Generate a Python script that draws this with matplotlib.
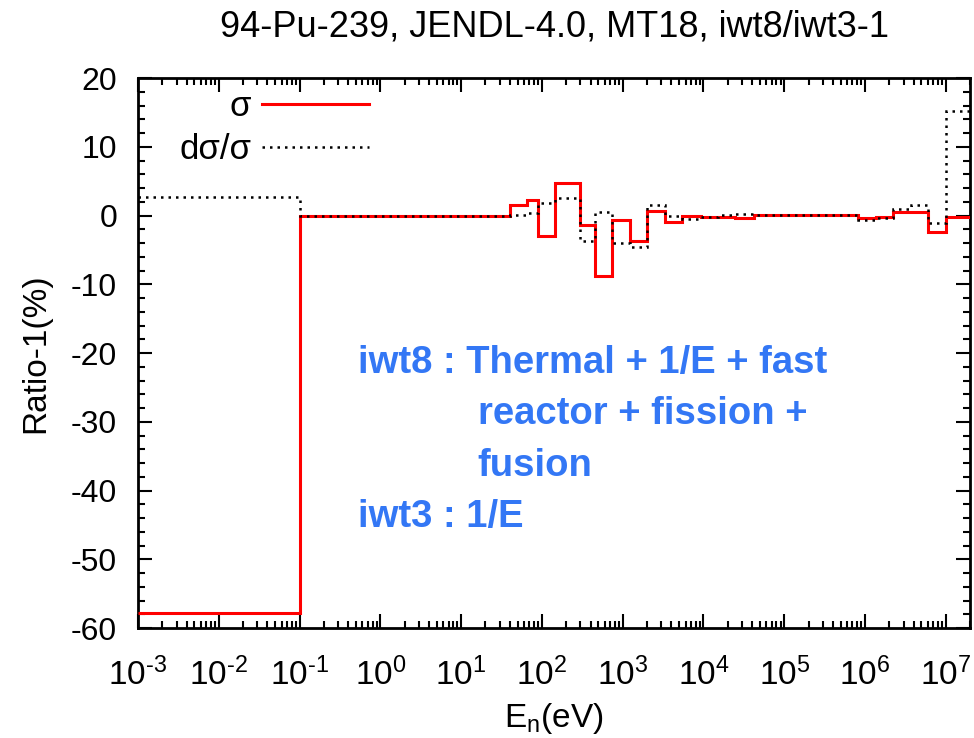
import matplotlib
matplotlib.use("Agg")
import matplotlib.pyplot as plt
from matplotlib.ticker import LogLocator, MultipleLocator, FixedLocator
import numpy as np

plt.rcParams['font.family'] = ['Liberation Sans', 'DejaVu Sans']
plt.rcParams['axes.unicode_minus'] = False
plt.rcParams['mathtext.fontset'] = 'custom'
plt.rcParams['mathtext.rm'] = 'Liberation Sans'
plt.rcParams['mathtext.it'] = 'Liberation Sans:italic'
plt.rcParams['mathtext.bf'] = 'Liberation Sans:bold'

# group boundaries (eV) and values (%)
sig_edges = [1e-3, 0.1, 40, 65, 89, 145, 300, 455, 740, 1230, 2000, 3300, 5500,
             9400, 24500, 42000, 8.1e5, 1.35e6, 2.2e6, 6.0e6, 1.0e7, 2.0e7]
sig_vals = [-57.8, 0.0, 1.5, 2.25, -3.0, 4.7, -1.3, -8.8, -0.7, -3.7, 0.7, -0.9, 0.0,
            -0.2, -0.4, 0.1, -0.3, -0.2, 0.5, -2.4, -0.2]

dsig_edges = [1e-3, 0.1, 40, 65, 89, 145, 300, 455, 740, 1230, 2000, 3300, 5500,
              9400, 15000, 24500, 42000, 8.1e5, 1.35e6, 2.2e6, 3.7e6, 6.0e6, 1.0e7, 2.0e7]
dsig_vals = [2.7, 0.0, 0.1, 0.4, 1.9, 2.6, -3.7, 0.6, -4.0, -4.6, 1.6, 0.0, -0.5,
             -0.2, 0.1, 0.3, 0.1, -0.7, -0.4, 0.9, 1.6, -1.0, 15.2]

xtick_exps = list(range(-3, 8))
title = "94-Pu-239, JENDL-4.0, MT18, iwt8/iwt3-1"
note_lines = ["iwt8 : Thermal + 1/E + fast",
              "reactor + fission +",
              "fusion",
              "iwt3 : 1/E"]
note_x = [0.2644, 0.408, 0.408, 0.2644]
note_y = [0.4636, 0.3709, 0.2764, 0.1836]

fig = plt.figure(figsize=(9.74, 7.38), dpi=100)
ax = fig.add_axes([0.1417, 0.149, 0.8543, 0.745])

ax.stairs(sig_vals, sig_edges, baseline=None, color='#ff0000', lw=2.2, label='σ', zorder=3)
ax.stairs(dsig_vals, dsig_edges, baseline=None, color='black', lw=1.8,
          linestyle=(0, (1, 2)), label='dσ/σ', zorder=4)

ax.set_xscale('log')
ax.set_xlim(1e-3, 2e7)
ax.set_ylim(-60, 20)
ax.xaxis.set_major_locator(FixedLocator([10.0**k for k in xtick_exps]))
ax.xaxis.set_minor_locator(LogLocator(base=10, subs=np.arange(2, 10), numticks=100))
ax.yaxis.set_major_locator(MultipleLocator(10))
ax.yaxis.set_minor_locator(MultipleLocator(2))


def exp_label(k):
    s = str(k).replace('-', '\u2010')
    return r'10$^{\mathregular{%s}}$' % s


ax.set_xticklabels([exp_label(k) for k in xtick_exps])
ax.tick_params(which='both', direction='in', top=True, right=True, labelsize=23, width=1.5)
ax.tick_params(which='major', length=10, pad=15)
ax.tick_params(axis='x', which='major', pad=21, labelsize=24)
ax.tick_params(which='minor', length=5)
for s in ax.spines.values():
    s.set_linewidth(2)

ax.set_ylabel('Ratio-1(%)', fontsize=24)
ax.yaxis.set_label_coords(-0.104, 0.5)
ax.set_xlabel(r'E$_\mathregular{n}$(eV)', fontsize=24)
ax.xaxis.set_label_coords(0.5, -0.133)
fig.text(0.569, 0.95, title, fontsize=26, ha='center', va='baseline')

leg = ax.legend(loc='upper right', frameon=False, markerfirst=False, fontsize=25,
                handlelength=3.1, bbox_to_anchor=(0.2945, 1.004), labelspacing=0.3,
                handletextpad=0.3, borderaxespad=0)

for txt, xx, yy in zip(note_lines, note_x, note_y):
    ax.text(xx, yy, txt, transform=ax.transAxes, color='#3377f5',
            fontsize=27.5, fontweight='bold', va='baseline', ha='left')

fig.savefig('out.png', dpi=100)
